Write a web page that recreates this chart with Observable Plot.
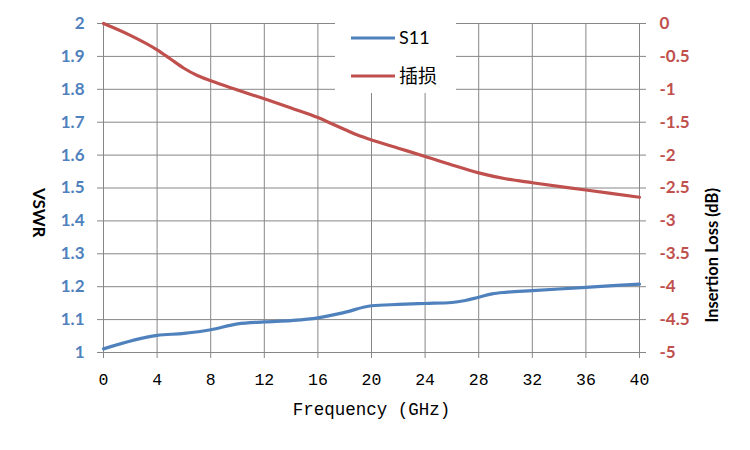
<!DOCTYPE html>
<html><head><meta charset="utf-8">
<script src="https://cdn.jsdelivr.net/npm/d3@7"></script>
<script src="https://cdn.jsdelivr.net/npm/@observablehq/plot@0.6"></script>
<style>
body{margin:0;background:#fff;}
#wrap{position:relative;width:750px;height:450px;}
#legend{position:absolute;left:335px;top:14px;width:121px;height:79px;background:#fff;}
</style></head><body><div id="wrap"></div>
<script>
const s11Freq = [0,4,6,8,10,12,14,16,18,20,22,24,26,27,28,29,30,32,36,40];
const s11Vswr = [1.011,1.052,1.058,1.069,1.087,1.093,1.097,1.105,1.122,1.142,1.146,1.149,1.152,1.158,1.168,1.178,1.183,1.188,1.198,1.208];
const lossFreq = [0,2,4,5,6,7,8,10,12,14,16,17,18,19,20,22,24,26,28,30,32,36,40];
const lossDb = [0,-0.18,-0.4,-0.54,-0.68,-0.79,-0.87,-1.01,-1.145,-1.285,-1.43,-1.52,-1.61,-1.7,-1.77,-1.895,-2.02,-2.15,-2.27,-2.36,-2.42,-2.53,-2.64];
const xTicks = [0,4,8,12,16,20,24,28,32,36,40];
const vswrTicks = [1,1.1,1.2,1.3,1.4,1.5,1.6,1.7,1.8,1.9,2];
const lossTicks = [0,-0.5,-1,-1.5,-2,-2.5,-3,-3.5,-4,-4.5,-5];
const seriesNames = ["S11","插损"];
const xLabel = "Frequency (GHz)";
const yLabel = "VSWR";
const y2Label = "Insertion Loss (dB)";

const blue = "#4F81BD", red = "#C0504D", grid = "#878787";
const toV = d => 2 + d / 5;

const s11Data = s11Freq.map((f, i) => ({f, v: s11Vswr[i]}));
const lossData = lossFreq.map((f, i) => ({f, v: toV(lossDb[i])}));

const chart = Plot.plot({
  width: 750, height: 450,
  marginLeft: 103, marginRight: 111, marginTop: 23, marginBottom: 98,
  style: {background: "#fff", overflow: "visible"},
  x: {domain: [0, 40]},
  y: {domain: [1, 2]},
  marks: [
    Plot.gridX(xTicks, {stroke: grid, strokeOpacity: 1, strokeWidth: 1}),
    Plot.gridY(vswrTicks, {stroke: grid, strokeOpacity: 1, strokeWidth: 1}),
    Plot.axisX(xTicks, {tickSize: 6, tickPadding: 15, stroke: grid, fill: "#000", fontFamily: "Liberation Mono", fontSize: 16.5, label: null}),
    Plot.axisY(vswrTicks, {anchor: "left", tickSize: 6, tickPadding: 13, stroke: grid, fill: blue, fontFamily: "Lato", fontWeight: "bold", fontSize: 17, label: null, tickFormat: d => String(d)}),
    Plot.axisY(lossTicks.map(toV), {anchor: "right", tickSize: 6, tickPadding: 14, stroke: grid, fill: red, fontFamily: "Lato", fontWeight: "bold", fontSize: 17, label: null, tickFormat: v => String(Math.round((v - 2) * 50) / 10)}),
    Plot.line(lossData, {x: "f", y: "v", stroke: red, strokeWidth: 3.2, curve: "monotone-x"}),
    Plot.line(s11Data, {x: "f", y: "v", stroke: blue, strokeWidth: 3.2, curve: "monotone-x"}),
    Plot.text([xLabel], {frameAnchor: "bottom", dy: 62, fontFamily: "Liberation Mono", fontSize: 17.5, fill: "#000"}),
    Plot.text([yLabel], {frameAnchor: "left", dx: -65, rotate: 90, fontFamily: "Lato", fontWeight: "bold", fontSize: 17, fill: "#000"}),
    Plot.text([y2Label], {frameAnchor: "right", dx: 73, rotate: -90, fontFamily: "Lato", fontWeight: "bold", fontSize: 16.5, fill: "#000"})
  ]
});
const wrap = document.getElementById("wrap");
wrap.appendChild(chart);

const legend = document.createElement("div");
legend.id = "legend";
const colors = [blue, red];
const ys = [24, 62];
let svg = '<svg width="121" height="79" xmlns="http://www.w3.org/2000/svg">';
seriesNames.forEach((n, i) => {
  svg += `<line x1="16" x2="60" y1="${ys[i]}" y2="${ys[i]}" stroke="${colors[i]}" stroke-width="3"/>`;
  svg += `<text x="64" y="${ys[i]}" dy="0.35em" font-family="Lato, 'Noto Sans CJK SC'" font-size="${i ? 19 : 18}" fill="#000">${n}</text>`;
});
svg += '</svg>';
legend.innerHTML = svg;
wrap.appendChild(legend);
</script>
</body></html>
